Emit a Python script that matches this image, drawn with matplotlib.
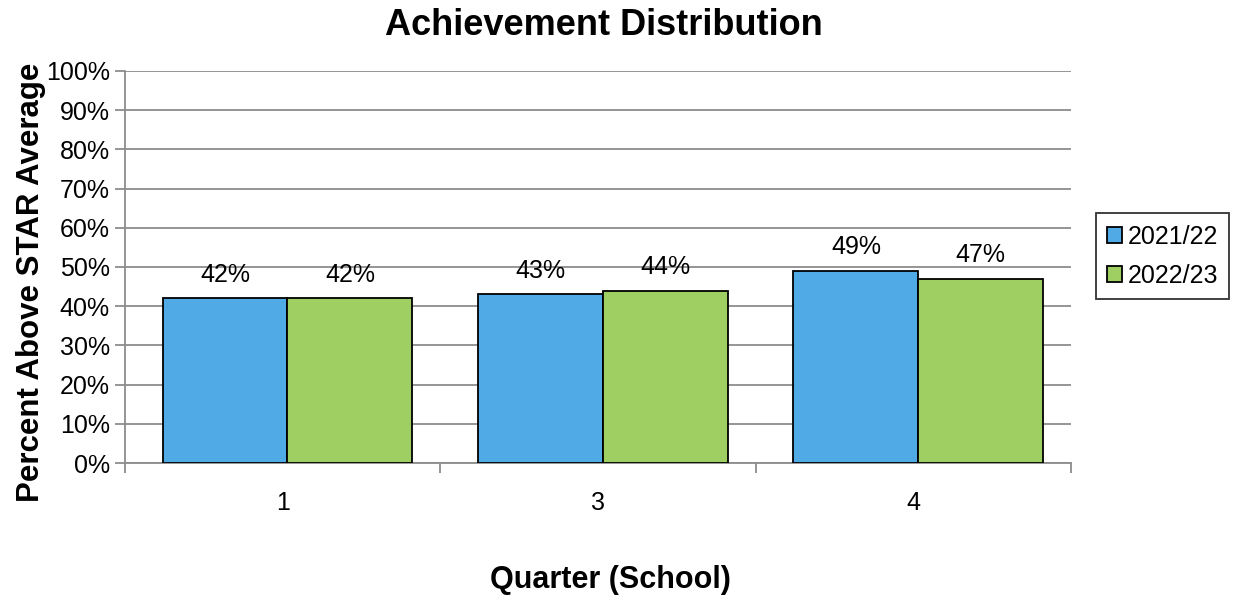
import matplotlib as mpl
import matplotlib.pyplot as plt
import numpy as np

mpl.rcParams.update({
    "font.family": ["Liberation Sans", "DejaVu Sans"],
    "font.size": 18,
})

# --- Data ---
quarters = ["1", "3", "4"]
years = ["2021/22", "2022/23"]
pct_2021 = [42, 43, 49]
pct_2022 = [42, 44, 47]

colors = ["#4FAAE6", "#9FCF63"]
grid_grey = "#8C8C8C"

fig = plt.figure(figsize=(12.33, 6.0), dpi=100)
ax = fig.add_axes([0.1014, 0.2283, 0.7675, 0.6534])

x = np.arange(len(quarters))
width = 0.396
for i, (vals, label, color) in enumerate(zip([pct_2021, pct_2022], years, colors)):
    offset = (i - 0.5) * width + 0.015
    bars = ax.bar(x + offset, vals, width, color=color, edgecolor="black",
                  linewidth=1.3, label=label, zorder=3)
    for b, v in zip(bars, vals):
        ax.text(b.get_x() + b.get_width() / 2, v + 6.0, f"{v}%",
                ha="center", va="center", fontsize=18)

ax.set_xlim(-0.5, len(quarters) - 0.5)
ax.set_ylim(0, 100)
ax.set_yticks(np.arange(0, 101, 10))
ax.set_yticklabels([f"{t}%" for t in range(0, 101, 10)])
ax.yaxis.grid(True, color=grid_grey, linewidth=1.3, zorder=0)
ax.set_axisbelow(True)

# category labels centred, tick marks at group boundaries
ax.set_xticks(x)
ax.set_xticklabels(quarters)
ax.tick_params(axis="x", length=0, pad=20, labelsize=18)
ax.set_xticks(np.arange(-0.5, len(quarters) + 0.5, 1), minor=True)
ax.tick_params(axis="x", which="minor", length=7, color=grid_grey, width=1.3)
ax.tick_params(axis="y", length=7, color=grid_grey, width=1.3, pad=4,
               labelsize=18)

for s in ["top", "right"]:
    ax.spines[s].set_visible(False)
for s in ["left", "bottom"]:
    ax.spines[s].set_color(grid_grey)
    ax.spines[s].set_linewidth(1.3)

fig.text(0.49, 0.958, "Achievement Distribution", ha="center", va="center",
         fontsize=26, fontweight="bold")
fig.text(0.495, 0.033, "Quarter (School)", ha="center", va="center",
         fontsize=22, fontweight="bold")
fig.text(0.025, 0.53, "Percent Above STAR Average", ha="center", va="center",
         rotation=90, fontsize=22.5, fontweight="bold")

leg = fig.legend(loc="center left", bbox_to_anchor=(0.889, 0.573),
                 frameon=True, fancybox=False, edgecolor="black",
                 handlelength=0.6, handleheight=0.6, handletextpad=0.2,
                 borderpad=0.45, labelspacing=0.6, borderaxespad=0,
                 fontsize=18)
leg.get_frame().set_linewidth(1.3)

fig.savefig("out.png", dpi=100)
